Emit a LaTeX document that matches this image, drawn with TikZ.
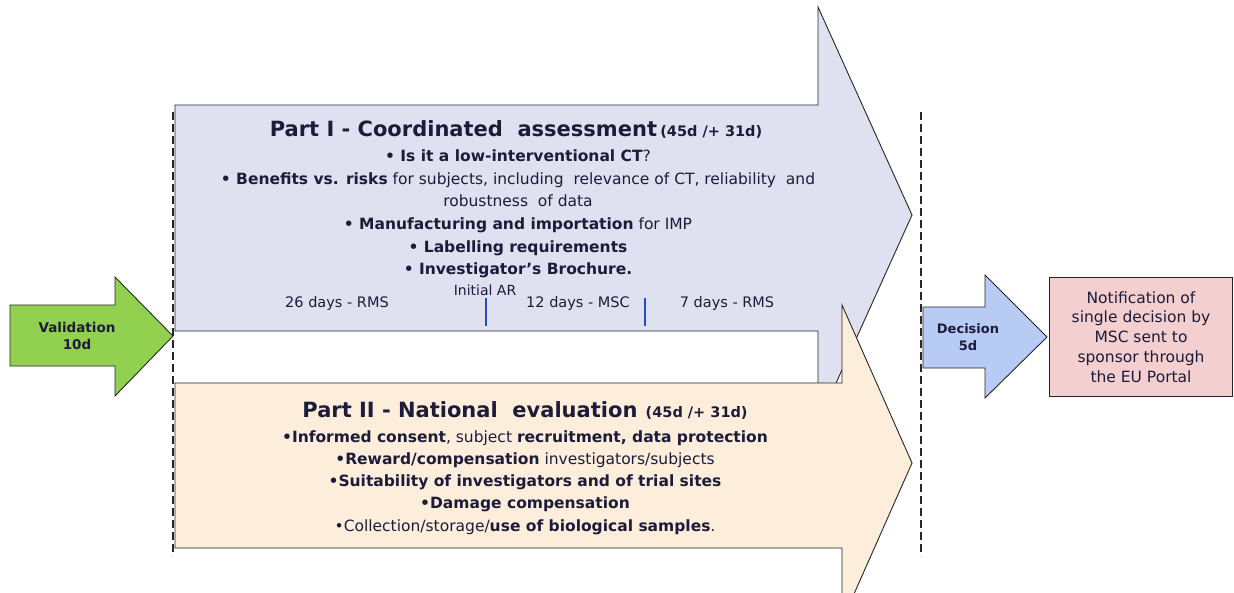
\documentclass[tikz,border=0pt]{standalone}
\usepackage{fontspec}
\setmainfont{DejaVu Sans}
\usetikzlibrary{positioning}

\definecolor{coordfill}{HTML}{DFE1F1}
\definecolor{natfill}{HTML}{FDEEDC}
\definecolor{validfill}{HTML}{92D050}
\definecolor{decfill}{HTML}{B7CBF5}
\definecolor{notefill}{HTML}{F4CFCF}
\definecolor{inktext}{HTML}{1C1C3A}
\definecolor{tickblue}{HTML}{2050B8}

\tikzset{
  outline/.style={draw=black!85, line width=0.9pt},
  phase/.style={text=inktext, align=center, inner sep=0pt},
  daylabel/.style={text=inktext, inner sep=0pt, font=\fontsize{14.5}{16}\selectfont},
  cutline/.style={draw=black!85, line width=1.1pt, dash pattern=on 8pt off 4pt},
  tickmark/.style={draw=tickblue, line width=1.6pt}
}

\begin{document}
\begin{tikzpicture}[x=1pt, y=-1pt]
\useasboundingbox (0,0) rectangle (1234,592);
\clip (0,0) rectangle (1234,592);
\fill[white] (0,0) rectangle (1234,592);

% the two assessment arrows, Part II laid over Part I
\draw[outline, fill=coordfill] (175,105) -- (818,105) -- (818,7) -- (912,215)
  -- (818,423) -- (818,331) -- (175,331) -- cycle;
\draw[outline, fill=natfill] (175,383) -- (842,383) -- (842,305) -- (912,463)
  -- (842,621) -- (842,548) -- (175,548) -- cycle;

% validation and decision arrows
\draw[outline, fill=validfill] (10,305) -- (115,305) -- (115,277) -- (173,336)
  -- (115,396) -- (115,366) -- (10,366) -- cycle;
\draw[outline, fill=decfill] (923,307) -- (985,307) -- (985,275) -- (1047,337)
  -- (985,398) -- (985,368) -- (923,368) -- cycle;

% phase boundaries
\draw[cutline] (173,112) -- (173,556);
\draw[cutline] (921,112) -- (921,556);

\node (valid) at (77,336) [phase, font=\fontsize{13.5}{17}\selectfont\bfseries] {Validation\\10d};
\node (decis) at (968,337) [phase, font=\fontsize{13}{17}\selectfont\bfseries] {Decision\\5d};

\node (notify) at (1141,337) [outline, fill=notefill, minimum width=183pt, minimum height=119pt,
  text=inktext, align=center, inner sep=0pt, font=\fontsize{15.5}{19.8}\selectfont]
  {Notification of\\single decision by\\MSC sent to\\sponsor through\\the EU Portal};

% Part I
\node (p1title) at (516,129) [phase] {{\fontsize{21}{24}\selectfont\bfseries Part I - Coordinated\ \ assessment}
  {\fontsize{14.5}{15}\selectfont\bfseries (45d /+ 31d)}};
\node (p1items) at (518,214) [phase, font=\fontsize{15.5}{22.6}\selectfont]
  {{\bfseries • Is it a low-interventional CT}?\\
   {\bfseries • Benefits vs. risks} for subjects, including\ \ relevance of CT, reliability\ \ and\\
   robustness\ \ of data\\
   {\bfseries • Manufacturing and importation} for IMP\\
   {\bfseries • Labelling requirements}\\
   {\bfseries • Investigator’s Brochure.}};

\node (initar) at (485,290) [daylabel, font=\fontsize{14}{15}\selectfont] {Initial AR};
\node (rms1) at (337,303) [daylabel] {26 days - RMS};
\node (msc) at (578,303) [daylabel] {12 days - MSC};
\node (rms2) at (727,303) [daylabel] {7 days - RMS};
\draw[tickmark] (486,298) -- (486,326);
\draw[tickmark] (645,298) -- (645,326);

% Part II
\node (p2title) at (525,410) [phase] {{\fontsize{21}{24}\selectfont\bfseries Part II - National\ \ evaluation}
  {\fontsize{14.5}{15}\selectfont\bfseries\ (45d /+ 31d)}};
\node (p2items) at (525,482.5) [phase, font=\fontsize{15.5}{22.2}\selectfont]
  {{\bfseries •Informed consent}, subject {\bfseries recruitment, data protection}\\
   {\bfseries •Reward/compensation} investigators/subjects\\
   {\bfseries •Suitability of investigators and of trial sites}\\
   {\bfseries •Damage compensation}\\
   •Collection/storage/{\bfseries use of biological samples}.};
\end{tikzpicture}
\end{document}
